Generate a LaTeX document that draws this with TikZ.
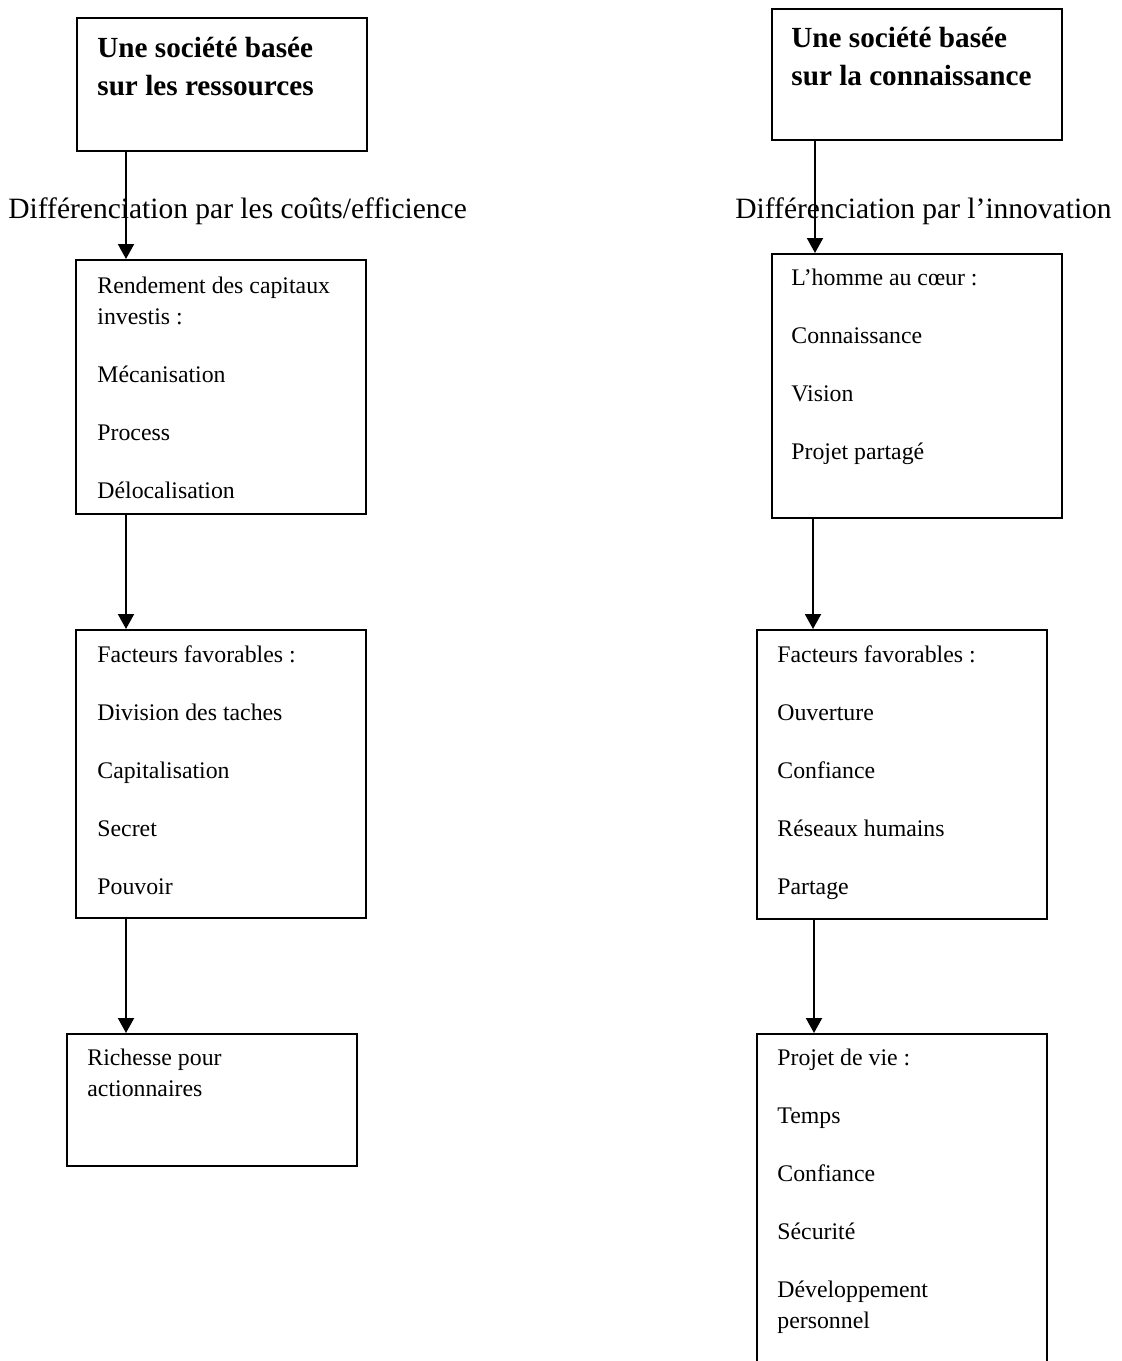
\documentclass[tikz,border=0pt]{standalone}
\usepackage{fontspec}
\setmainfont{Liberation Serif}
\usetikzlibrary{arrows.meta}
\newcommand{\itemgap}{\\[13.5pt]}
\tikzset{
  box/.style={draw, line width=1pt, inner sep=0pt, anchor=north west, minimum width=145pt, minimum height=#1},
  box/.default=66pt,
  txt/.style={anchor=north west, align=left, inner sep=0pt, font=\fontsize{11.9}{15.5}\selectfont},
  title/.style={anchor=north west, align=left, inner sep=0pt, font=\bfseries\fontsize{14.6}{19}\selectfont},
  lab/.style={anchor=base west, inner sep=0pt, font=\fontsize{14.75}{17}\selectfont},
  arrow/.style={-{Triangle[length=7.5pt, width=8pt]}, line width=1pt},
}

\begin{document}
\begin{tikzpicture}[x=0.5pt, y=-0.5pt]
  \clip (0,0) rectangle (1121,1361);
  % resources column
  \node[box=66.5pt] (a1) at (76,17) {};
  \node[box=127pt] (a2) at (75,259) {};
  \node[box=144pt] (a3) at (75,629) {};
  \node[box=66pt] (a4) at (66,1033) {};
  \node[title] (a1t) at ([shift={(21,13)}]a1.north west) {\strut Une société basée\\sur les ressources};
  \node[txt] (a2t) at ([shift={(22,12)}]a2.north west) {\strut Rendement des capitaux\\investis :\itemgap Mécanisation\itemgap Process\itemgap Délocalisation};
  \node[txt] (a3t) at ([shift={(22,11)}]a3.north west) {\strut Facteurs favorables :\itemgap Division des taches\itemgap Capitalisation\itemgap Secret\itemgap Pouvoir};
  \node[txt] (a4t) at ([shift={(21,10)}]a4.north west) {\strut Richesse pour\\actionnaires};
  % knowledge column
  \node[box=65.5pt] (b1) at (771,8) {};
  \node[box=132pt] (b2) at (771,253) {};
  \node[box=144.5pt] (b3) at (756,629) {};
  \node[box=200pt] (b4) at (756,1033) {};
  \node[title] (b1t) at ([shift={(20,12)}]b1.north west) {\strut Une société basée\\sur la connaissance};
  \node[txt] (b2t) at ([shift={(20,10)}]b2.north west) {\strut L’homme au cœur :\itemgap Connaissance\itemgap Vision\itemgap Projet partagé};
  \node[txt] (b3t) at ([shift={(21,11)}]b3.north west) {\strut Facteurs favorables :\itemgap Ouverture\itemgap Confiance\itemgap Réseaux humains\itemgap Partage};
  \node[txt] (b4t) at ([shift={(21,10)}]b4.north west) {\strut Projet de vie :\itemgap Temps\itemgap Confiance\itemgap Sécurité\itemgap Développement\\personnel};
  % differentiation labels
  \node[lab] (la) at (8,218) {Différenciation par les coûts/efficience};
  \node[lab] (lb) at (735,218) {Différenciation par l’innovation};
  \foreach \a/\b/\dx in {a1/a2/50, a2/a3/51, a3/a4/51, b1/b2/44, b2/b3/42, b3/b4/58} {
    \path ([shift={(\dx,0)}]\a.south west) coordinate (s);
    \draw[arrow] (s) -- (s |- \b.north);
  }
\end{tikzpicture}
\end{document}
